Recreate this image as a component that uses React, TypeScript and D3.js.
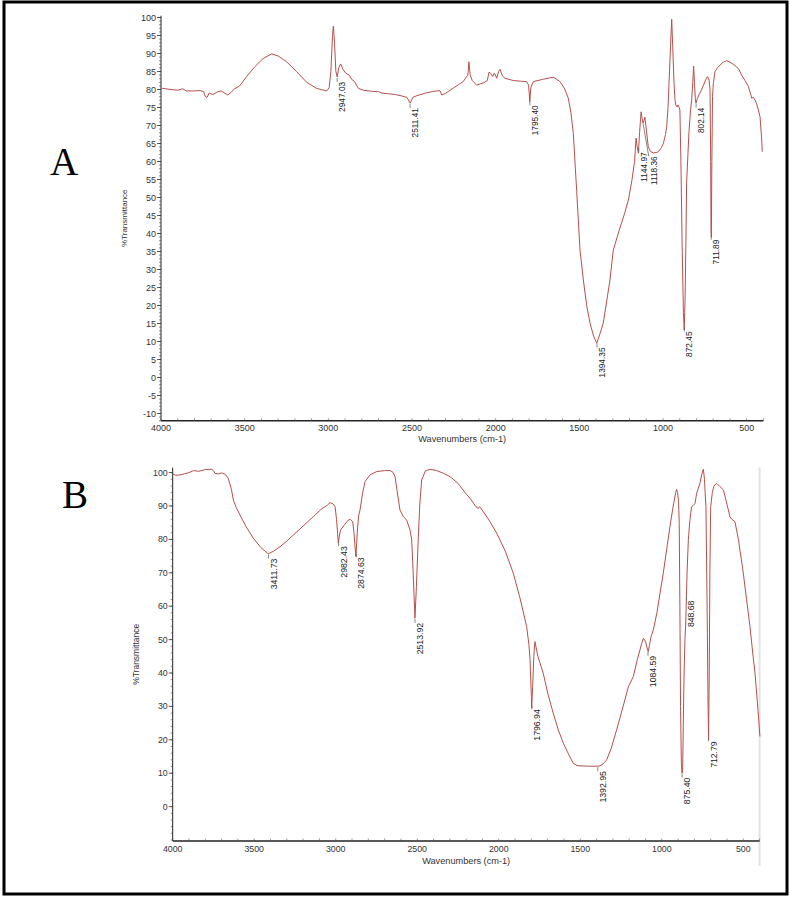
import React from 'react';
import * as d3 from 'd3';

type Pt = [number, number];
type Peak = [number, string];

// spectrum A: [wavenumber, %T]
const spectrumA: Pt[] = [
  [4000, 80.4], [3990, 80.3], [3940, 80.0], [3900, 79.8], [3870, 80.2], [3850, 79.6], [3800, 79.6],
  [3767, 79.7], [3745, 79.4], [3735, 78.0], [3725, 77.8], [3712, 79.0], [3690, 78.6], [3660, 79.4],
  [3640, 79.6], [3620, 79.0], [3600, 78.5], [3580, 79.3], [3560, 80.2], [3530, 81.0], [3488, 83.6],
  [3440, 86.3], [3390, 88.6], [3338, 89.9], [3300, 89.3], [3249, 87.7], [3190, 85.0], [3129, 82.0],
  [3070, 80.3], [3010, 79.6], [2995, 80.5], [2985, 85], [2975, 95], [2970, 97.6], [2963, 93],
  [2955, 85], [2947, 83.5], [2938, 86], [2926, 87.1], [2912, 85.5], [2895, 84.5], [2875, 84.0],
  [2860, 82.8], [2845, 82.3], [2820, 80.3], [2790, 79.8], [2740, 79.5], [2700, 79.4], [2680, 79.0],
  [2640, 78.8], [2600, 78.6], [2560, 78.2], [2530, 77.8], [2511, 76.2], [2495, 77.8], [2470, 78.3],
  [2420, 79.0], [2370, 79.5], [2333, 79.7], [2323, 78.5], [2300, 78.9], [2260, 80.2], [2220, 81.4],
  [2194, 82.2], [2175, 83.5], [2166, 84], [2160, 87.7], [2152, 84.0], [2140, 82.5], [2114, 81.2],
  [2090, 81.6], [2074, 81.8], [2050, 82.5], [2040, 84.8], [2030, 84.5], [2018, 83.6], [2010, 84.5],
  [2004, 84.3], [1994, 83.1], [1982, 85.0], [1974, 85.6], [1960, 83.8], [1944, 83.1], [1895, 82.5],
  [1850, 82.3], [1815, 82.2], [1803, 81.2], [1796, 76.6], [1790, 80.5], [1775, 82.2], [1720, 82.8],
  [1680, 83.2], [1656, 83.4], [1640, 83.0], [1616, 82.2], [1590, 80.4], [1566, 77.6], [1550, 73.5],
  [1536, 67.8], [1516, 52], [1496, 35.4], [1476, 27.1], [1456, 20], [1436, 15.1], [1415, 11.5],
  [1396, 9.5], [1375, 12.4], [1357, 15.1], [1337, 21], [1317, 27.1], [1297, 35.4], [1261, 41],
  [1230, 45.5], [1207, 49.3], [1185, 55], [1170, 60], [1161, 66.5], [1154, 64], [1147, 62.3],
  [1140, 68], [1131, 73.8], [1125, 72], [1119, 70.6], [1113, 71.5], [1108, 72.3], [1100, 69],
  [1088, 64.1], [1075, 62.8], [1058, 62.4], [1040, 62.5], [1028, 62.7], [1010, 63.8], [998, 65],
  [985, 67.5], [978, 69.7], [970, 75], [964, 81.7], [955, 92], [948, 99.5], [942, 92], [934, 81.7],
  [928, 77], [922, 75.4], [915, 75.2], [910, 75.7], [903, 75], [899, 74.3], [893, 60], [885, 35],
  [878, 18], [873, 13.2], [868, 22], [863, 38], [859, 54], [845, 68], [835, 74.5], [829, 77],
  [822, 82], [817, 86.5], [812, 82], [807, 77.5], [803, 76.2], [795, 77.5], [785, 78.5], [770, 79.9],
  [755, 81.5], [739, 83.4], [732, 83.5], [725, 82.6], [719, 80], [715, 60], [713, 40.5], [711, 39],
  [708, 60], [704, 78], [699, 81.7], [689, 85], [675, 86], [659, 86.8], [640, 87.6], [619, 88],
  [600, 87.6], [580, 87], [560, 86.3], [545, 85.5], [530, 84], [510, 82.5], [490, 80.9], [475, 78.5],
  [470, 77.6], [460, 77.8], [450, 77.1], [440, 76], [430, 74.3], [420, 72.4], [410, 66], [407, 62.7],
];

const peaksA: Peak[] = [
  [2947.03, '2947.03'], [2511.41, '2511.41'], [1795.40, '1795.40'], [1394.35, '1394.35'],
  [1144.97, '1144.97'], [1118.36, '1118.36'], [872.45, '872.45'], [802.14, '802.14'], [711.89, '711.89'],
];

// spectrum B: [wavenumber, %T]
const spectrumB: Pt[] = [
  [4000, 99.6], [3980, 99.2], [3955, 99.3], [3930, 99.6], [3900, 100.0], [3873, 100.6], [3840, 100.4],
  [3800, 100.9], [3760, 101.0], [3750, 100.6], [3741, 99.8], [3720, 99.6], [3700, 99.9], [3679, 99.5],
  [3659, 98.3], [3640, 95], [3628, 91.8], [3610, 89.5], [3587, 87.3], [3550, 83.8], [3506, 80.4],
  [3460, 77.6], [3414, 75.7], [3380, 76.5], [3342, 77.8], [3300, 79.5], [3260, 81.3], [3200, 84.0],
  [3138, 86.8], [3090, 89.0], [3050, 90.3], [3035, 91.0], [3015, 90.6], [3004, 89.8], [2995, 86],
  [2984, 78.9], [2978, 81], [2970, 82.8], [2945, 84.5], [2923, 85.8], [2910, 86], [2896, 85.3],
  [2888, 82], [2882, 78], [2876, 74.9], [2868, 82], [2860, 87], [2851, 88.8], [2835, 94], [2820, 97.3],
  [2790, 99.3], [2749, 100.3], [2700, 100.6], [2667, 100.6], [2650, 100.2], [2636, 98.8], [2625, 95],
  [2606, 88.8], [2585, 86.8], [2565, 85.8], [2545, 83], [2534, 79.9], [2525, 70], [2514, 56.4],
  [2505, 66], [2494, 79.9], [2485, 90], [2473, 97.8], [2450, 100.5], [2422, 101.0], [2380, 100.6],
  [2340, 99.8], [2299, 98.8], [2250, 96.8], [2200, 93.6], [2176, 92.3], [2140, 89.8], [2125, 89.3],
  [2118, 89.8], [2110, 89.4], [2060, 85.8], [2013, 81.9], [1960, 76.5], [1911, 69.9], [1870, 62.5],
  [1829, 53.9], [1815, 48.5], [1808, 44], [1800, 33], [1798, 29.5], [1792, 36], [1785, 45],
  [1778, 49.4], [1760, 45], [1727, 39.9], [1700, 34], [1666, 28], [1635, 23], [1604, 19], [1570, 15.5],
  [1543, 13], [1520, 12.3], [1502, 12.2], [1450, 12.1], [1393, 12.1], [1379, 12.2], [1360, 12.8],
  [1338, 14], [1310, 17.5], [1277, 23], [1240, 29.5], [1205, 35.9], [1175, 38.9], [1150, 44],
  [1123, 48.9], [1113, 50.4], [1100, 49.5], [1090, 47.5], [1083, 46.4], [1075, 48.5], [1065, 51],
  [1052, 52.9], [1030, 58], [991, 69.9], [970, 77], [950, 83.8], [930, 90], [915, 94], [909, 95],
  [903, 94], [897, 91], [893, 84.8], [889, 60], [885, 30], [880, 13], [876, 10], [872, 11], [868, 25],
  [863, 40], [858, 49.9], [853, 55], [851, 58.9], [845, 70], [837, 79.9], [827, 86], [817, 89.8],
  [806, 90.2], [796, 90.8], [786, 93.8], [766, 96.8], [755, 99.5], [745, 101], [738, 98], [733, 93],
  [729, 89.8], [722, 60], [716, 30], [713, 20], [709, 40], [705, 70], [700, 89.8], [690, 94], [680, 96],
  [663, 96.8], [643, 95.8], [622, 94.8], [600, 90.5], [582, 86.8], [570, 86], [551, 85.3], [530, 80],
  [500, 69.9], [480, 62], [459, 53.9], [440, 45], [428, 39.9], [410, 29], [398, 21],
];

const peaksB: Peak[] = [
  [3411.73, '3411.73'], [2982.43, '2982.43'], [2874.63, '2874.63'], [2513.92, '2513.92'],
  [1796.94, '1796.94'], [1392.95, '1392.95'], [1084.59, '1084.59'], [875.40, '875.40'],
  [848.68, '848.68'], [712.79, '712.79'],
];

const xTicks = [4000, 3500, 3000, 2500, 2000, 1500, 1000, 500];
const yTicksA = [100, 95, 90, 85, 80, 75, 70, 65, 60, 55, 50, 45, 40, 35, 30, 25, 20, 15, 10, 5, 0, -5, -10];
const yTicksB = [100, 90, 80, 70, 60, 50, 40, 30, 20, 10, 0];

const FONT = 'Liberation Sans, Arial, sans-serif';
const LINE = '#b5504c';

function valueAt(spec: Pt[], w: number) {
  for (let i = 0; i < spec.length - 1; i++) {
    const [w0, v0] = spec[i];
    const [w1, v1] = spec[i + 1];
    if (w0 >= w && w1 <= w) {
      const t = (w0 - w) / (w0 - w1 || 1);
      return v0 + (v1 - v0) * t;
    }
  }
  return spec[spec.length - 1][1];
}

interface PanelProps {
  spectrum: Pt[];
  peaks: Peak[];
  xRange: [number, number];
  yDomain: [number, number];
  yRange: [number, number];
  yTicks: number[];
  yMinorStep: number;
  tickFont: number;
  labelFont: number;
  titleFont: number;
  yTitleX: number;
  xTitleDy: number;
  frame?: boolean;
}

const Panel: React.FC<PanelProps> = ({
  spectrum, peaks, xRange, yDomain, yRange, yTicks, yMinorStep,
  tickFont, labelFont, titleFont, yTitleX, xTitleDy, frame,
}) => {
  const x = d3.scaleLinear().domain([4000, 400]).range(xRange);
  const y = d3.scaleLinear().domain(yDomain).range(yRange);
  const line = d3.line<Pt>().x(d => x(d[0])).y(d => y(d[1]));

  const left = xRange[0];
  const right = xRange[1];
  const bottom = yRange[0];
  const top = yRange[1];

  const xMinor = d3.range(4000, 399, -100);
  const yMinor = d3.range(Math.ceil(yDomain[0] / yMinorStep) * yMinorStep, yDomain[1], yMinorStep);

  // label placement
  const placed: { px: number; py: number; cx: number; top: number; text: string }[] = [];
  peaks.forEach(([w, text]) => {
    const px = x(w);
    const py = y(valueAt(spectrum, w));
    let cx = px + 5;
    let t = py + 5;
    const prev = placed[placed.length - 1];
    if (prev && Math.abs(t - prev.top) < 40 && cx - prev.cx < 10) {
      cx = prev.cx + 10;
      t = Math.max(t, prev.top + 4);
    }
    placed.push({ px, py, cx, top: t, text });
  });

  return (
    <g fontFamily={FONT}>
      {frame && (
        <line x1={right} x2={right} y1={top} y2={bottom + 25} stroke="#e2e2e2" strokeWidth={2} />
      )}
      {/* y axis */}
      <line x1={left} x2={left} y1={top} y2={bottom} stroke="#222" strokeWidth={1} />
      {yMinor.map(v => (
        <line key={'ym' + v} x1={left - 2} x2={left} y1={y(v)} y2={y(v)} stroke="#444" strokeWidth={0.6} />
      ))}
      {yTicks.map(v => (
        <g key={'yt' + v}>
          <line x1={left - 4} x2={left} y1={y(v)} y2={y(v)} stroke="#333" strokeWidth={0.8} />
          <text x={left - 5} y={y(v) + tickFont * 0.35} textAnchor="end" fontSize={tickFont} fill="#333">
            {v}
          </text>
        </g>
      ))}
      {/* x axis */}
      <line x1={left} x2={right} y1={bottom} y2={bottom} stroke="#222" strokeWidth={1.5} />
      {xMinor.map(w => (
        <line key={'xm' + w} x1={x(w)} x2={x(w)} y1={bottom} y2={bottom - 2.5} stroke="#555" strokeWidth={0.6} />
      ))}
      {xTicks.map(w => (
        <text key={'xt' + w} x={x(w)} y={bottom + 10.5} textAnchor="middle" fontSize={tickFont} fill="#333">
          {w}
        </text>
      ))}
      <text x={(left + right) / 2} y={bottom + xTitleDy} textAnchor="middle" fontSize={9.2} fill="#333">
        Wavenumbers (cm-1)
      </text>
      <text
        transform={`translate(${yTitleX},${(top + bottom) / 2}) rotate(-90)`}
        textAnchor="middle"
        fontSize={titleFont}
        fill="#333"
      >
        %Transmittance
      </text>
      {/* spectrum */}
      <path d={line(spectrum) || ''} fill="none" stroke={LINE} strokeWidth={1} strokeLinejoin="round" />
      {/* peak labels */}
      {placed.map(p => (
        <g key={p.text}>
          <line x1={p.px} y1={p.py + 1} x2={p.cx - 5} y2={p.top} stroke="#666" strokeWidth={0.8} />
          <text
            transform={`translate(${p.cx + 3},${p.top}) rotate(-90)`}
            textAnchor="end"
            fontSize={labelFont}
            fill="#222"
          >
            {p.text}
          </text>
        </g>
      ))}
    </g>
  );
};

export default function App() {
  return (
    <svg
      width={790}
      height={897}
      style={{ position: 'absolute', left: 0, top: 0, background: '#fff' }}
    >
      <rect x={0} y={0} width={790} height={897} fill="#fff" />
      <rect x={4} y={2} width={783} height={892} fill="none" stroke="#000" strokeWidth={3} />
      <text x={50} y={175} fontFamily="Liberation Serif, Times New Roman, serif" fontSize={39} fill="#000">A</text>
      <text x={62} y={508} fontFamily="Liberation Serif, Times New Roman, serif" fontSize={39} fill="#000">B</text>
      <Panel
        spectrum={spectrumA}
        peaks={peaksA}
        xRange={[161, 763.4]}
        yDomain={[-12, 100.5]}
        yRange={[420.7, 15.7]}
        yTicks={yTicksA}
        yMinorStep={1}
        tickFont={9}
        labelFont={8.3}
        titleFont={8}
        yTitleX={127}
        xTitleDy={21.5}
      />
      <Panel
        spectrum={spectrumB}
        peaks={peaksB}
        xRange={[172.7, 759.6]}
        yDomain={[-10.3, 101.5]}
        yRange={[841, 467.6]}
        yTicks={yTicksB}
        yMinorStep={2}
        tickFont={8.8}
        labelFont={8.7}
        titleFont={8.5}
        yTitleX={139}
        xTitleDy={23}
        frame
      />
    </svg>
  );
}
